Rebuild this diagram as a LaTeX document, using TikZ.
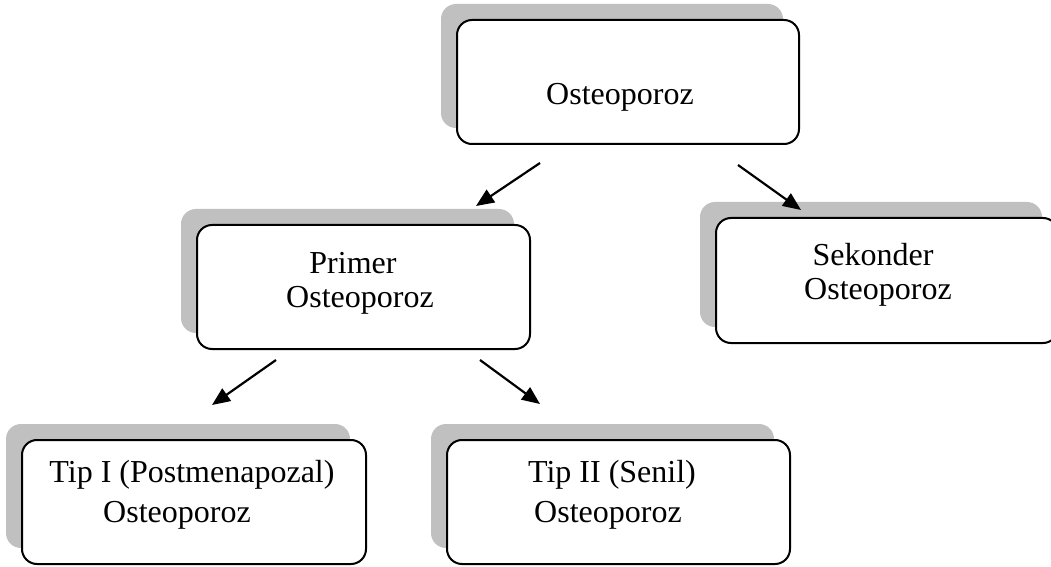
\documentclass[tikz,border=0pt]{standalone}
\usepackage{fontspec}
\setmainfont{Liberation Serif}
\usetikzlibrary{shadows,arrows.meta}
\definecolor{shadowgray}{RGB}{192,192,192}
\begin{document}
\begin{tikzpicture}[x=0.5pt,y=-0.5pt,
  box/.style={draw=black, line width=1pt, rounded corners=7.5pt, fill=white, inner sep=0pt,
    general shadow={fill=shadowgray, shadow xshift=-8pt, shadow yshift=8pt}},
  txt/.style={font=\fontsize{16}{19}\selectfont, inner sep=0pt},
  arr/.style={line width=1.1pt, -{Triangle[length=9pt,width=7.5pt]}}]
\useasboundingbox (0,0) rectangle (1051,567);
% boxes
\node[box, minimum width=171pt, minimum height=62pt] (top) at (628,82) {};
\node[box, minimum width=166.5pt, minimum height=62pt] (primer) at (363.5,287) {};
\node[box, minimum width=171pt, minimum height=62.5pt] (sekonder) at (887,280.5) {};
\node[box, minimum width=172pt, minimum height=62pt] (tip1) at (194,502) {};
\node[box, minimum width=171.5pt, minimum height=62pt] (tip2) at (618.5,502) {};
% texts
\node[txt] (topT) at (620,97) {Osteoporoz};
\node[txt] (primerA) at (353,263) {Primer};
\node[txt] (primerB) at (360,300) {Osteoporoz};
\node[txt] (sekA) at (873,255) {Sekonder};
\node[txt] (sekB) at (878,292) {Osteoporoz};
\node[txt] (tip1A) at (192,475) {Tip I (Postmenapozal)};
\node[txt] (tip1B) at (177,515) {Osteoporoz};
\node[txt] (tip2A) at (612,475) {Tip II (Senil)};
\node[txt] (tip2B) at (608,515) {Osteoporoz};
% arrow ends
\coordinate (a1s) at (540,163); \coordinate (a1e) at (476,206);
\coordinate (a2s) at (738,165); \coordinate (a2e) at (801,210);
\coordinate (a3s) at (276,360); \coordinate (a3e) at (212,405);
\coordinate (a4s) at (480,360); \coordinate (a4e) at (540,404);
\draw[arr] (a1s) -- (a1e);
\draw[arr] (a2s) -- (a2e);
\draw[arr] (a3s) -- (a3e);
\draw[arr] (a4s) -- (a4e);
\end{tikzpicture}
\end{document}
